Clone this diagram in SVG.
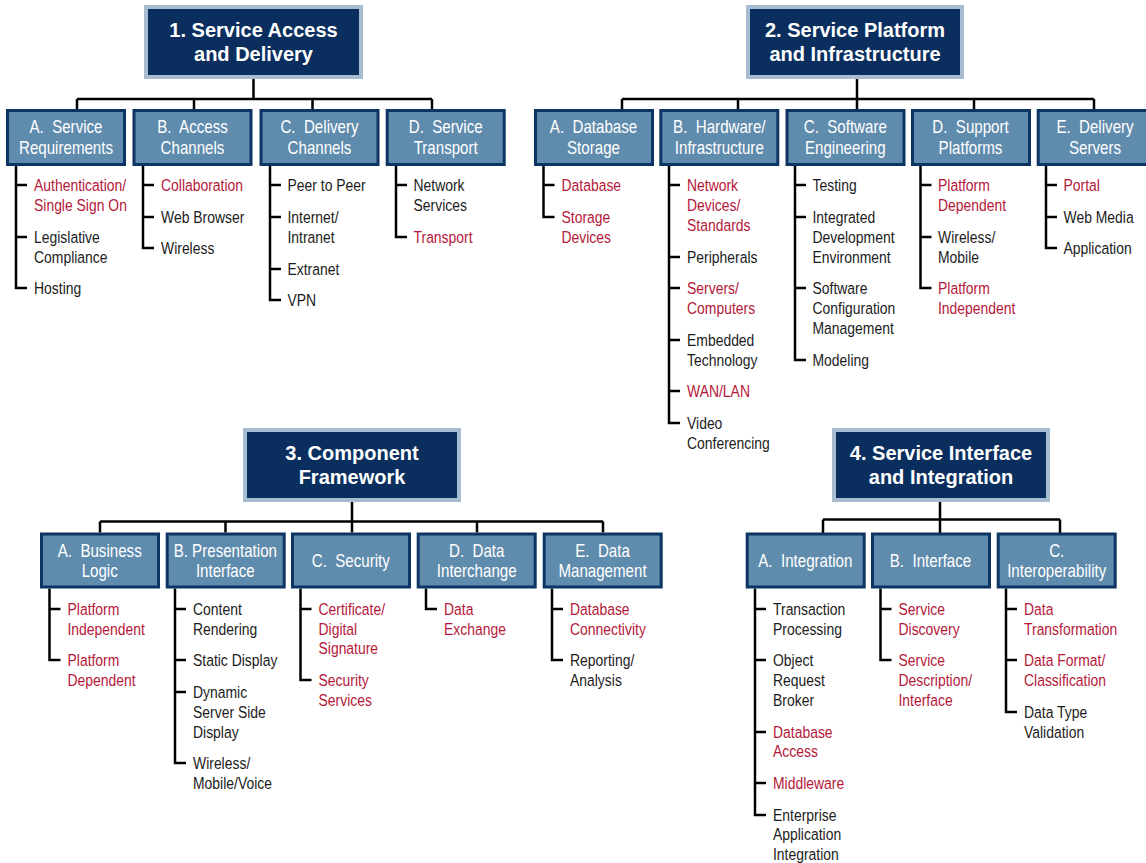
<svg xmlns="http://www.w3.org/2000/svg" width="1146" height="863" viewBox="0 0 1146 863">
<style>
  .hdr rect { fill: #0a2f5f; stroke: #a7bcd1; stroke-width: 4; }
  .hdr text { font-family: "Liberation Sans", Arial, sans-serif; font-weight: bold; font-size: 20px; fill: #ffffff; text-anchor: middle; }
  .cat rect { fill: #5f8bad; stroke: #0d3563; stroke-width: 3; }
  .cat text { font-family: "Liberation Sans", Arial, sans-serif; font-size: 18px; fill: #ffffff; text-anchor: middle; white-space: pre; }
  .ln { stroke: #000000; stroke-width: 2.5; fill: none; stroke-linejoin: miter; }
  .lf text { font-family: "Liberation Sans", Arial, sans-serif; font-size: 17px; fill: #1c1c1c; }
  .lf text.r { fill: #b5183a; }
</style>
<rect width="1146" height="863" fill="#ffffff"/>

<!-- connectors: buses, drops and item trees -->
<g id="connectors" class="ln">
  <!-- section 1 -->
  <path d="M253.5 79 V99 M77 99 H432 M77 99 V109 M194 99 V109 M312.5 99 V109 M432 99 V109"/>
  <path d="M16 166 V288 H27 M16 185 H27 M16 237 H27"/>
  <path d="M143 166 V248 H154 M143 185 H154 M143 217 H154"/>
  <path d="M270 166 V300 H281 M270 185 H281 M270 217 H281 M270 269 H281"/>
  <path d="M396 166 V237 H407 M396 185 H407"/>
  <!-- section 2 -->
  <path d="M857 79 V99 M622 99 H1094 M622 99 V109 M738 99 V109 M857 99 V109 M974 99 V109 M1094 99 V109"/>
  <path d="M543.5 166 V217 H554.5 M543.5 185 H554.5"/>
  <path d="M669 166 V423 H680 M669 185 H680 M669 257 H680 M669 288 H680 M669 340 H680 M669 391 H680"/>
  <path d="M795 166 V360 H806 M795 185 H806 M795 217 H806 M795 288 H806"/>
  <path d="M920.5 166 V288 H931.5 M920.5 185 H931.5 M920.5 237 H931.5"/>
  <path d="M1046 166 V248 H1057 M1046 185 H1057 M1046 217 H1057"/>
  <!-- section 3 -->
  <path d="M352 502 V521.5 M100 521.5 H603 M100 521.5 V532.5 M225.5 521.5 V532.5 M352 521.5 V532.5 M477 521.5 V532.5 M603 521.5 V532.5"/>
  <path d="M49.5 588.5 V660 H60.5 M49.5 609 H60.5"/>
  <path d="M175 588.5 V763 H186 M175 609 H186 M175 660 H186 M175 692 H186"/>
  <path d="M300.5 588.5 V680 H311.5 M300.5 609 H311.5"/>
  <path d="M426 588.5 V609 H437"/>
  <path d="M552 588.5 V660 H563 M552 609 H563"/>
  <!-- section 4 -->
  <path d="M940 501 V519.5 M823 519.5 H1060 M823 519.5 V533 M940 519.5 V533 M1060 519.5 V533"/>
  <path d="M755 588.5 V815 H766 M755 609 H766 M755 660 H766 M755 732 H766 M755 783 H766"/>
  <path d="M880.5 588.5 V660 H891.5 M880.5 609 H891.5"/>
  <path d="M1006 588.5 V712 H1017 M1006 609 H1017 M1006 660 H1017"/>
</g>

<!-- top-level headers -->
<g id="h1" class="hdr">
  <rect x="146" y="7" width="215" height="70"/>
  <text x="253.5" y="37">1. Service Access</text>
  <text x="253.5" y="60.5">and Delivery</text>
</g>
<g id="h2" class="hdr">
  <rect x="748" y="7" width="214" height="70"/>
  <text x="855" y="37">2. Service Platform</text>
  <text x="855" y="60.5">and Infrastructure</text>
</g>
<g id="h3" class="hdr">
  <rect x="245" y="430" width="214" height="70"/>
  <text x="352" y="460">3. Component</text>
  <text x="352" y="483.5">Framework</text>
</g>
<g id="h4" class="hdr">
  <rect x="834" y="430" width="214" height="70"/>
  <text x="941" y="460">4. Service Interface</text>
  <text x="941" y="483.5">and Integration</text>
</g>

<!-- section 1 categories -->
<g id="c1a" class="cat"><rect x="7.5" y="110.5" width="117" height="54"/>
  <g transform="translate(66,0) scale(0.84,1)"><text y="133.3">A.  Service</text><text y="154">Requirements</text></g></g>
<g id="c1b" class="cat"><rect x="134" y="110.5" width="117" height="54"/>
  <g transform="translate(192.5,0) scale(0.84,1)"><text y="133.3">B.  Access</text><text y="154">Channels</text></g></g>
<g id="c1c" class="cat"><rect x="261" y="110.5" width="117" height="54"/>
  <g transform="translate(319.5,0) scale(0.84,1)"><text y="133.3">C.  Delivery</text><text y="154">Channels</text></g></g>
<g id="c1d" class="cat"><rect x="387.2" y="110.5" width="117" height="54"/>
  <g transform="translate(445.7,0) scale(0.84,1)"><text y="133.3">D.  Service</text><text y="154">Transport</text></g></g>

<!-- section 2 categories -->
<g id="c2a" class="cat"><rect x="535.5" y="110.5" width="117" height="54"/>
  <g transform="translate(593.5,0) scale(0.84,1)"><text y="133.3">A.  Database</text><text y="154">Storage</text></g></g>
<g id="c2b" class="cat"><rect x="660.8" y="110.5" width="117" height="54"/>
  <g transform="translate(719.3,0) scale(0.84,1)"><text y="133.3">B.  Hardware/</text><text y="154">Infrastructure</text></g></g>
<g id="c2c" class="cat"><rect x="787" y="110.5" width="117" height="54"/>
  <g transform="translate(845.3,0) scale(0.84,1)"><text y="133.3">C.  Software</text><text y="154">Engineering</text></g></g>
<g id="c2d" class="cat"><rect x="912.5" y="110.5" width="117" height="54"/>
  <g transform="translate(970.5,0) scale(0.84,1)"><text y="133.3">D.  Support</text><text y="154">Platforms</text></g></g>
<g id="c2e" class="cat"><rect x="1038.2" y="110.5" width="114" height="54"/>
  <g transform="translate(1095,0) scale(0.84,1)"><text y="133.3">E.  Delivery</text><text y="154">Servers</text></g></g>

<!-- section 3 categories -->
<g id="c3a" class="cat"><rect x="41.5" y="534" width="117" height="53"/>
  <g transform="translate(99.7,0) scale(0.84,1)"><text y="556.7">A.  Business</text><text y="577">Logic</text></g></g>
<g id="c3b" class="cat"><rect x="167.2" y="534" width="117" height="53"/>
  <g transform="translate(225.3,0) scale(0.84,1)"><text y="556.7">B. Presentation</text><text y="577">Interface</text></g></g>
<g id="c3c" class="cat"><rect x="292.5" y="534" width="117" height="53"/>
  <g transform="translate(350.8,0) scale(0.84,1)"><text y="567.5">C.  Security</text></g></g>
<g id="c3d" class="cat"><rect x="418.2" y="534" width="117" height="53"/>
  <g transform="translate(476.7,0) scale(0.84,1)"><text y="556.7">D.  Data</text><text y="577">Interchange</text></g></g>
<g id="c3e" class="cat"><rect x="544.2" y="534" width="117" height="53"/>
  <g transform="translate(602.5,0) scale(0.84,1)"><text y="556.7">E.  Data</text><text y="577">Management</text></g></g>

<!-- section 4 categories -->
<g id="c4a" class="cat"><rect x="747.2" y="534" width="117" height="53"/>
  <g transform="translate(805.3,0) scale(0.84,1)"><text y="567.5">A.  Integration</text></g></g>
<g id="c4b" class="cat"><rect x="872.5" y="534" width="117" height="53"/>
  <g transform="translate(930.5,0) scale(0.84,1)"><text y="567.5">B.  Interface</text></g></g>
<g id="c4c" class="cat"><rect x="998.2" y="534" width="117" height="53"/>
  <g transform="translate(1056.7,0) scale(0.84,1)"><text y="556.7">C.</text><text y="577">Interoperability</text></g></g>

<!-- section 1 items -->
<g id="i1a" class="lf" transform="translate(34,-1) scale(0.82,1)">
  <text class="r" y="192"><tspan x="0">Authentication/</tspan><tspan x="0" dy="20">Single Sign On</tspan></text>
  <text y="244"><tspan x="0">Legislative</tspan><tspan x="0" dy="20">Compliance</tspan></text>
  <text x="0" y="295">Hosting</text>
</g>
<g id="i1b" class="lf" transform="translate(161,-1) scale(0.82,1)">
  <text class="r" x="0" y="192">Collaboration</text>
  <text x="0" y="224">Web Browser</text>
  <text x="0" y="255">Wireless</text>
</g>
<g id="i1c" class="lf" transform="translate(287.5,-1) scale(0.82,1)">
  <text x="0" y="192">Peer to Peer</text>
  <text y="224"><tspan x="0">Internet/</tspan><tspan x="0" dy="20">Intranet</tspan></text>
  <text x="0" y="276">Extranet</text>
  <text x="0" y="307">VPN</text>
</g>
<g id="i1d" class="lf" transform="translate(413.5,-1) scale(0.82,1)">
  <text y="192"><tspan x="0">Network</tspan><tspan x="0" dy="20">Services</tspan></text>
  <text class="r" x="0" y="244">Transport</text>
</g>

<!-- section 2 items -->
<g id="i2a" class="lf" transform="translate(561.5,-1) scale(0.82,1)">
  <text class="r" x="0" y="192">Database</text>
  <text class="r" y="224"><tspan x="0">Storage</tspan><tspan x="0" dy="20">Devices</tspan></text>
</g>
<g id="i2b" class="lf" transform="translate(687,-1) scale(0.82,1)">
  <text class="r" y="192"><tspan x="0">Network</tspan><tspan x="0" dy="20">Devices/</tspan><tspan x="0" dy="20">Standards</tspan></text>
  <text x="0" y="264">Peripherals</text>
  <text class="r" y="295"><tspan x="0">Servers/</tspan><tspan x="0" dy="20">Computers</tspan></text>
  <text y="347"><tspan x="0">Embedded</tspan><tspan x="0" dy="20">Technology</tspan></text>
  <text class="r" x="0" y="398">WAN/LAN</text>
  <text y="430"><tspan x="0">Video</tspan><tspan x="0" dy="20">Conferencing</tspan></text>
</g>
<g id="i2c" class="lf" transform="translate(812.5,-1) scale(0.82,1)">
  <text x="0" y="192">Testing</text>
  <text y="224"><tspan x="0">Integrated</tspan><tspan x="0" dy="20">Development</tspan><tspan x="0" dy="20">Environment</tspan></text>
  <text y="295"><tspan x="0">Software</tspan><tspan x="0" dy="20">Configuration</tspan><tspan x="0" dy="20">Management</tspan></text>
  <text x="0" y="367">Modeling</text>
</g>
<g id="i2d" class="lf" transform="translate(938,-1) scale(0.82,1)">
  <text class="r" y="192"><tspan x="0">Platform</tspan><tspan x="0" dy="20">Dependent</tspan></text>
  <text y="244"><tspan x="0">Wireless/</tspan><tspan x="0" dy="20">Mobile</tspan></text>
  <text class="r" y="295"><tspan x="0">Platform</tspan><tspan x="0" dy="20">Independent</tspan></text>
</g>
<g id="i2e" class="lf" transform="translate(1063.5,-1) scale(0.82,1)">
  <text class="r" x="0" y="192">Portal</text>
  <text x="0" y="224">Web Media</text>
  <text x="0" y="255">Application</text>
</g>

<!-- section 3 items -->
<g id="i3a" class="lf" transform="translate(67.5,-1) scale(0.82,1)">
  <text class="r" y="616"><tspan x="0">Platform</tspan><tspan x="0" dy="20">Independent</tspan></text>
  <text class="r" y="667"><tspan x="0">Platform</tspan><tspan x="0" dy="20">Dependent</tspan></text>
</g>
<g id="i3b" class="lf" transform="translate(193,-1) scale(0.82,1)">
  <text y="616"><tspan x="0">Content</tspan><tspan x="0" dy="20">Rendering</tspan></text>
  <text x="0" y="667">Static Display</text>
  <text y="699"><tspan x="0">Dynamic</tspan><tspan x="0" dy="20">Server Side</tspan><tspan x="0" dy="20">Display</tspan></text>
  <text y="770"><tspan x="0">Wireless/</tspan><tspan x="0" dy="20">Mobile/Voice</tspan></text>
</g>
<g id="i3c" class="lf" transform="translate(318.5,-1) scale(0.82,1)">
  <text class="r" y="616"><tspan x="0">Certificate/</tspan><tspan x="0" dy="20">Digital</tspan><tspan x="0" dy="19.5">Signature</tspan></text>
  <text class="r" y="687"><tspan x="0">Security</tspan><tspan x="0" dy="20">Services</tspan></text>
</g>
<g id="i3d" class="lf" transform="translate(444,-1) scale(0.82,1)">
  <text class="r" y="616"><tspan x="0">Data</tspan><tspan x="0" dy="20">Exchange</tspan></text>
</g>
<g id="i3e" class="lf" transform="translate(570,-1) scale(0.82,1)">
  <text class="r" y="616"><tspan x="0">Database</tspan><tspan x="0" dy="20">Connectivity</tspan></text>
  <text y="667"><tspan x="0">Reporting/</tspan><tspan x="0" dy="20">Analysis</tspan></text>
</g>

<!-- section 4 items -->
<g id="i4a" class="lf" transform="translate(773,-1) scale(0.82,1)">
  <text y="616"><tspan x="0">Transaction</tspan><tspan x="0" dy="20">Processing</tspan></text>
  <text y="667"><tspan x="0">Object</tspan><tspan x="0" dy="20">Request</tspan><tspan x="0" dy="20">Broker</tspan></text>
  <text class="r" y="739"><tspan x="0">Database</tspan><tspan x="0" dy="19.5">Access</tspan></text>
  <text class="r" x="0" y="790">Middleware</text>
  <text y="822"><tspan x="0">Enterprise</tspan><tspan x="0" dy="19.5">Application</tspan><tspan x="0" dy="19.5">Integration</tspan></text>
</g>
<g id="i4b" class="lf" transform="translate(898.5,-1) scale(0.82,1)">
  <text class="r" y="616"><tspan x="0">Service</tspan><tspan x="0" dy="20">Discovery</tspan></text>
  <text class="r" y="667"><tspan x="0">Service</tspan><tspan x="0" dy="20">Description/</tspan><tspan x="0" dy="20">Interface</tspan></text>
</g>
<g id="i4c" class="lf" transform="translate(1024,-1) scale(0.82,1)">
  <text class="r" y="616"><tspan x="0">Data</tspan><tspan x="0" dy="20">Transformation</tspan></text>
  <text class="r" y="667"><tspan x="0">Data Format/</tspan><tspan x="0" dy="20">Classification</tspan></text>
  <text y="719"><tspan x="0">Data Type</tspan><tspan x="0" dy="20">Validation</tspan></text>
</g>
</svg>
